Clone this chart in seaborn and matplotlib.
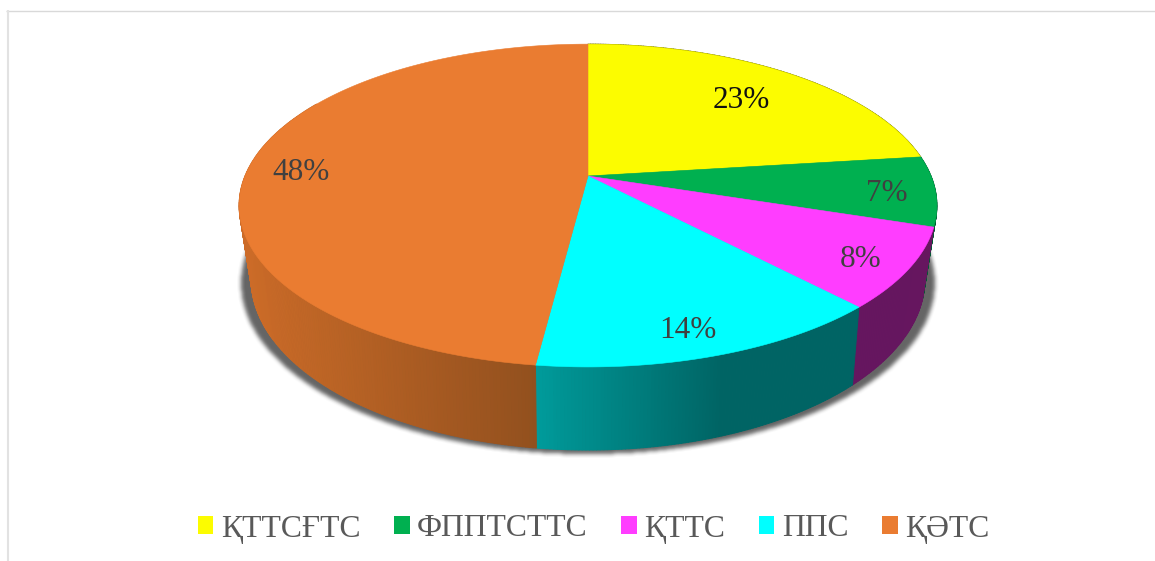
import numpy as np
import matplotlib
matplotlib.use("Agg")
import matplotlib.pyplot as plt
from matplotlib.path import Path
from matplotlib.patches import Polygon, Patch
from matplotlib.collections import PolyCollection
import seaborn as sns

# ---- data ----
categories = ["ҚТТСҒТС", "ФППТСТТС", "ҚТТС", "ППС", "ҚӘТС"]
shares = [23, 7, 8, 14, 48]
top_hex = ["#FCFC00", "#00B050", "#FF3DFF", "#00FFFF", "#EA7C31"]
label_hex = ["#111111", "#404040", "#404040", "#404040", "#404040"]

# ---- layout / style ----
label_radius = [0.74, 0.86, 0.86, 0.86, 0.85]
label_shift = [0, 0, 0, 1.5, 0]
label_dy = [3, 5, 5, 3, 5]
# side wall colours: (x_start, rgb_start, x_end, rgb_end) in pixels
wall_grad = [
    (900, (90, 90, 0), 930, (90, 90, 0)),
    (850, (0, 90, 50), 940, (0, 90, 50)),
    (850, (102, 22, 95), 940, (102, 22, 95)),
    (537, (0, 155, 155), 720, (0, 100, 100)),
    (245, (205, 108, 40), 537, (146, 80, 30)),
]

sns.set_theme(style="white")
plt.rcParams["font.family"] = ["Liberation Serif", "DejaVu Serif"]
palette = sns.color_palette(top_hex)

W, H = 1155, 561
fig = plt.figure(figsize=(W / 100, H / 100), dpi=100, facecolor="white")
ax = fig.add_axes([0, 0, 1, 1])
ax.set_xlim(0, W)
ax.set_ylim(H, 0)
ax.axis("off")


def project(theta_deg, r=1.0, plane="top"):
    t = np.radians(np.asarray(theta_deg, dtype=float))
    u, v = r * np.sin(t), r * np.cos(t)
    if plane == "top":
        cy, Rx, Ry, k = 176.0, 343.0, 156.0, 0.183
    else:
        cy, Rx, Ry, k = 245.0, 330.0, 164.0, 0.20
    w = 1 + k * v
    return 588.0 + Rx * u / w, cy - Ry * v / w


edges = np.concatenate([[0], np.cumsum(shares)]) * 360.0 / np.sum(shares)

# ---- blurred drop shadow ----
th = np.linspace(0, 360, 721)
bx, by = project(th, plane="bottom")
sx = 588 + (bx - 588) * 1.03
sy = by + 4
yy, xx = np.mgrid[0:H, 0:W]
mask = Path(np.column_stack([sx, sy])).contains_points(
    np.column_stack([xx.ravel() + 0.5, yy.ravel() + 0.5])).reshape(H, W).astype(float)
kernel = np.ones(5) / 5
for _ in range(2):
    mask = np.apply_along_axis(lambda a: np.convolve(a, kernel, mode="same"), 0, mask)
    mask = np.apply_along_axis(lambda a: np.convolve(a, kernel, mode="same"), 1, mask)
rgba = np.zeros((H, W, 4))
rgba[..., :3] = 0.25
rgba[..., 3] = mask * 0.8
ax.imshow(rgba, extent=(0, W, H, 0), zorder=1, interpolation="nearest", aspect="auto")
ax.set_xlim(0, W)
ax.set_ylim(H, 0)

# ---- side walls ----
for i in range(len(shares)):
    a, b = edges[i], min(edges[i + 1], 300)
    if b <= a:
        continue
    ts = np.arange(a, b + 0.5, 0.5)
    tx, ty = project(ts)
    ux, uy = project(ts, plane="bottom")
    quads, cols = [], []
    x0, c0, x1, c1 = wall_grad[i]
    for j in range(len(ts) - 1):
        quads.append([(tx[j], ty[j]), (tx[j + 1], ty[j + 1]),
                      (ux[j + 1], uy[j + 1]), (ux[j], uy[j])])
        f = np.clip(((ux[j] + ux[j + 1]) / 2 - x0) / (x1 - x0), 0, 1)
        cols.append(tuple((np.array(c0) + f * (np.array(c1) - np.array(c0))) / 255))
    ax.add_collection(PolyCollection(quads, facecolors=cols, edgecolors=cols,
                                     linewidths=0.7, zorder=2))

# ---- top faces ----
apex = project(0.0, r=0.0)
for i, col in enumerate(palette):
    ts = np.linspace(edges[i], edges[i + 1], 300)
    x, y = project(ts)
    pts = np.vstack([[apex[0], apex[1]], np.column_stack([x, y])])
    ax.add_patch(Polygon(pts, closed=True, facecolor=col, edgecolor=col, lw=0.4, zorder=3))

# ---- percent labels ----
for i, s in enumerate(shares):
    mid = (edges[i] + edges[i + 1]) / 2 + label_shift[i]
    lx, ly = project(mid, r=label_radius[i])
    ax.text(lx + 1, ly + label_dy[i], f"{s}%", ha="center", va="center", fontsize=22.5,
            color=label_hex[i], zorder=4)

# ---- frame ----
ax.plot([6, W], [10.5, 10.5], color="#D9D9D9", lw=1.0, zorder=0, solid_capstyle="butt")
ax.plot([7.5, 7.5], [10, H], color="#E2E2E2", lw=1.5, zorder=0, solid_capstyle="butt")

# ---- legend ----
handles = [Patch(facecolor=c, edgecolor="none", label=n) for c, n in zip(palette, categories)]
leg = ax.legend(handles=handles, ncol=5, loc="center", bbox_to_anchor=(593.5 / W, 1 - 529 / H),
                frameon=False, fontsize=22.8, handlelength=0.5, handleheight=0.5,
                handletextpad=0.24, columnspacing=1.05, labelcolor="#595959",
                borderpad=0, borderaxespad=0)

fig.savefig("out.png", dpi=100, facecolor="white")
